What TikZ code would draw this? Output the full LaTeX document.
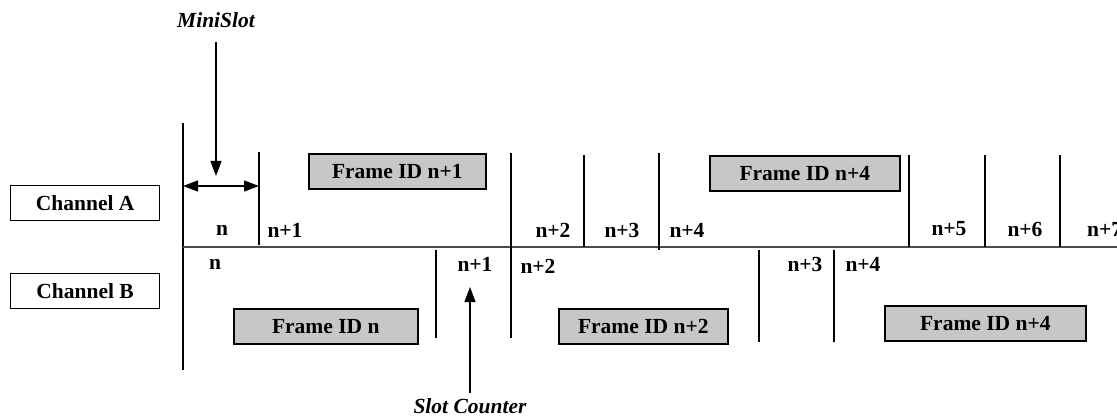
\documentclass[tikz,border=0pt]{standalone}
\usepackage{fontspec}
\setmainfont{Liberation Serif}
\usetikzlibrary{arrows.meta}
\begin{document}
\begin{tikzpicture}[x=1pt,y=-1pt,
  txt/.style={font=\fontsize{21.5}{25}\selectfont\bfseries, inner sep=0pt},
  lbl/.style={txt, anchor=center},
  frame/.style={txt, draw=black, line width=1.6pt, fill=black!22, minimum height=35pt, anchor=north west},
  chan/.style={txt, draw=black, line width=1.3pt, fill=white, minimum width=149pt, minimum height=35pt, anchor=north west},
  tick/.style={line width=1.2pt, black},
  arr/.style={line width=1.2pt, -{Triangle[length=15pt,width=11pt]}},
]
\useasboundingbox (0,0) rectangle (1117,417);
% main axes
\draw[tick] (183,123) -- (183,370);
\draw[line width=1.6pt, black!70] (183,247) -- (1125,247);
% channel A ticks
\draw[tick] (259,152) -- (259,245);
\draw[tick] (511,153) -- (511,338);
\draw[tick] (584,155) -- (584,247);
\draw[tick] (659,153) -- (659,250);
\draw[tick] (909,155) -- (909,247);
\draw[tick] (985,155) -- (985,247);
\draw[tick] (1060,155) -- (1060,247);
% channel B ticks
\draw[tick] (436,250) -- (436,338);
\draw[tick] (759,250) -- (759,342);
\draw[tick] (834,250) -- (834,342);
% channel boxes
\node[chan] (cha) at (10,185) {Channel A};
\node[chan] (chb) at (10,273) {Channel B};
% frame boxes
\node[frame, minimum width=177pt] (f1) at (308,153) {Frame ID n+1};
\node[frame, minimum width=190pt] (f4a) at (709,155) {Frame ID n+4};
\node[frame, minimum width=184pt] (f0) at (233,308) {Frame ID n};
\node[frame, minimum width=169pt] (f2) at (558,308) {Frame ID n+2};
\node[frame, minimum width=201pt] (f4b) at (884,305) {Frame ID n+4};
% channel A slot labels
\node[lbl] (a0) at (222,230) {n};
\node[lbl] (a1) at (285,230) {n+1};
\node[lbl] (a2) at (553,230) {n+2};
\node[lbl] (a3) at (622,230) {n+3};
\node[lbl] (a4) at (687,230) {n+4};
\node[lbl] (a5) at (949,229) {n+5};
\node[lbl] (a6) at (1025,229) {n+6};
\node[txt, anchor=west] (a7) at (1087,229) {n+7};
% channel B slot labels
\node[lbl] (b0) at (215,264) {n};
\node[lbl] (b1) at (475,264) {n+1};
\node[lbl] (b2) at (538,266) {n+2};
\node[lbl] (b3) at (805,264) {n+3};
\node[lbl] (b4) at (863,264) {n+4};
% MiniSlot
\node[txt, font=\fontsize{21.5}{25}\selectfont\bfseries\itshape] (ms) at (216,20) {MiniSlot};
\coordinate (mstip) at (216,176);
\draw[arr] (216,42) -- (mstip);
\coordinate (mL) at (183,186);
\coordinate (mR) at (259,186);
\draw[line width=1.2pt, {Triangle[length=15pt,width=11pt]}-{Triangle[length=15pt,width=11pt]}] (mL) -- (mR);
% Slot Counter
\node[txt, font=\fontsize{21.5}{25}\selectfont\bfseries\itshape] (sc) at (470,406) {Slot Counter};
\coordinate (sctip) at (470,287);
\draw[arr] (470,393) -- (sctip);
\end{tikzpicture}
\end{document}
